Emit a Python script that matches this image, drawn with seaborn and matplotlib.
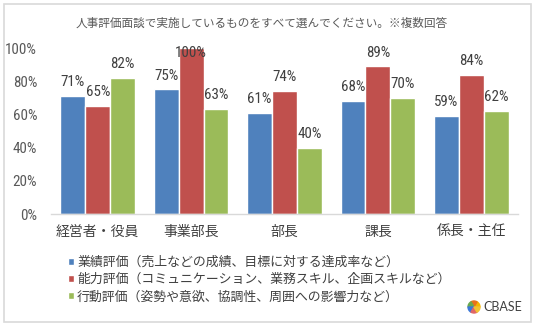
import matplotlib
matplotlib.use("Agg")
import matplotlib.pyplot as plt
import matplotlib.patches as mpatches
from matplotlib import font_manager as fm
from matplotlib.transforms import IdentityTransform
import seaborn as sns
import pandas as pd

categories = ["経営者・役員", "事業部長", "部長", "課長", "係長・主任"]
series_names = [
    "業績評価（売上などの成績、目標に対する達成率など）",
    "能力評価（コミュニケーション、業務スキル、企画スキルなど）",
    "行動評価（姿勢や意欲、協調性、周囲への影響力など）",
]
performance = [71, 75, 61, 68, 59]
ability = [65, 100, 74, 89, 84]
behavior = [82, 63, 40, 70, 62]
yticks = [0, 20, 40, 60, 80, 100]
title = "人事評価面談で実施しているものをすべて選んでください。※複数回答"
colors = ["#4F81BD", "#C0504D", "#9BBB59"]

rows = []
for name, vals in zip(series_names, [performance, ability, behavior]):
    for c, v in zip(categories, vals):
        rows.append({"category": c, "series": name, "value": v})
df = pd.DataFrame(rows)

sns.set_theme(style="white")
CJK = ["Noto Sans CJK JP", "DejaVu Sans"]
plt.rcParams["font.family"] = CJK

# find a narrow font for numbers, if one is installed
num_kw = {"family": ["Roboto", "DejaVu Sans"], "fontsize": 9.5}
names = {f.name for f in fm.fontManager.ttflist}
narrow_found = False
for cand in ["Liberation Sans Narrow", "Roboto Condensed", "Open Sans Condensed",
             "Noto Sans Condensed", "DejaVu Sans Condensed"]:
    if cand in names:
        num_kw = {"family": [cand, "DejaVu Sans"], "fontsize": 10.8}
        narrow_found = True
        break
if not narrow_found:
    for f in fm.fontManager.ttflist:
        if f.name == "DejaVu Sans" and str(f.stretch) in ("condensed", "semi-condensed"):
            num_kw = {"family": ["DejaVu Sans"], "fontsize": 10, "fontstretch": "condensed"}
            narrow_found = True
            break

fig = plt.figure(figsize=(5.36, 3.29), dpi=100)
fig.patch.set_facecolor("white")
ax = fig.add_axes([51 / 536, (329 - 214) / 329, (518 - 51) / 536, (214 - 48) / 329])

sns.barplot(data=df, x="category", y="value", hue="series", palette=colors,
            order=categories, hue_order=series_names, width=0.8,
            saturation=1, ax=ax, legend=True)

ax.set_xlim(-0.5, len(categories) - 0.5)
ax.set_ylim(0, 100)
ax.set_yticks(yticks)
ax.set_yticklabels([f"{t}%" for t in yticks], color="#595959", **num_kw)
ax.set_xlabel("")
ax.set_ylabel("")
ax.tick_params(axis="both", length=0)
ax.tick_params(axis="y", pad=10)
ax.tick_params(axis="x", pad=8)
for lbl in ax.get_xticklabels():
    lbl.set_fontsize(10)
    lbl.set_color("#404040")
    lbl.set_family(CJK)
for s in ["top", "right", "left"]:
    ax.spines[s].set_visible(False)
ax.spines["bottom"].set_color("#D9D9D9")
ax.spines["bottom"].set_linewidth(1)
ax.grid(False)

# value labels
for cont in ax.containers:
    for p in cont.patches:
        h = p.get_height()
        x = p.get_x() + p.get_width() / 2
        if h + 12 > 100:
            ax.text(x, 100 - 3, f"{h:.0f}%", ha="center", va="center",
                    color="#404040", clip_on=False, **num_kw)
        else:
            ax.annotate(f"{h:.0f}%", (x, h), xytext=(0, 5), textcoords="offset points",
                        ha="center", va="bottom", color="#404040",
                        annotation_clip=False, **num_kw)

# legend
handles, labels = ax.get_legend_handles_labels()
ax.get_legend().remove()
fig.legend(handles, labels, loc="upper left", bbox_to_anchor=(68 / 536, (329 - 256) / 329),
           frameon=False, handlelength=0.45, handleheight=0.45,
           handletextpad=0.25, labelspacing=0.33, borderpad=0, borderaxespad=0,
           labelcolor="#404040", prop={"family": CJK, "size": 9.3})

# title
fig.text(262 / 536, 1 - 23 / 329, title, ha="center", va="center",
         fontsize=8.4, color="#595959", family=CJK)

# border
fig.add_artist(mpatches.Rectangle((4 / 536, 1 - 322 / 329), 527 / 536, 318 / 329,
                                  transform=fig.transFigure, fill=False,
                                  edgecolor="#D9D9D9", linewidth=1.2))

# logo
logo_cols = ["#F4B400", "#E8711C", "#6AA84F", "#3C78D8", "#E06666", "#F1C232"]
for i, c in enumerate(logo_cols):
    w = mpatches.Wedge((474, 329 - 307), 6, i * 60, (i + 1) * 60, color=c,
                       transform=IdentityTransform())
    fig.add_artist(w)
fig.text(483 / 536, 1 - 307 / 329, "CBASE", ha="left", va="center", fontsize=9,
         color="#404040", family=["Lato", "DejaVu Sans"])

fig.savefig("out.png", dpi=100, facecolor="white")
